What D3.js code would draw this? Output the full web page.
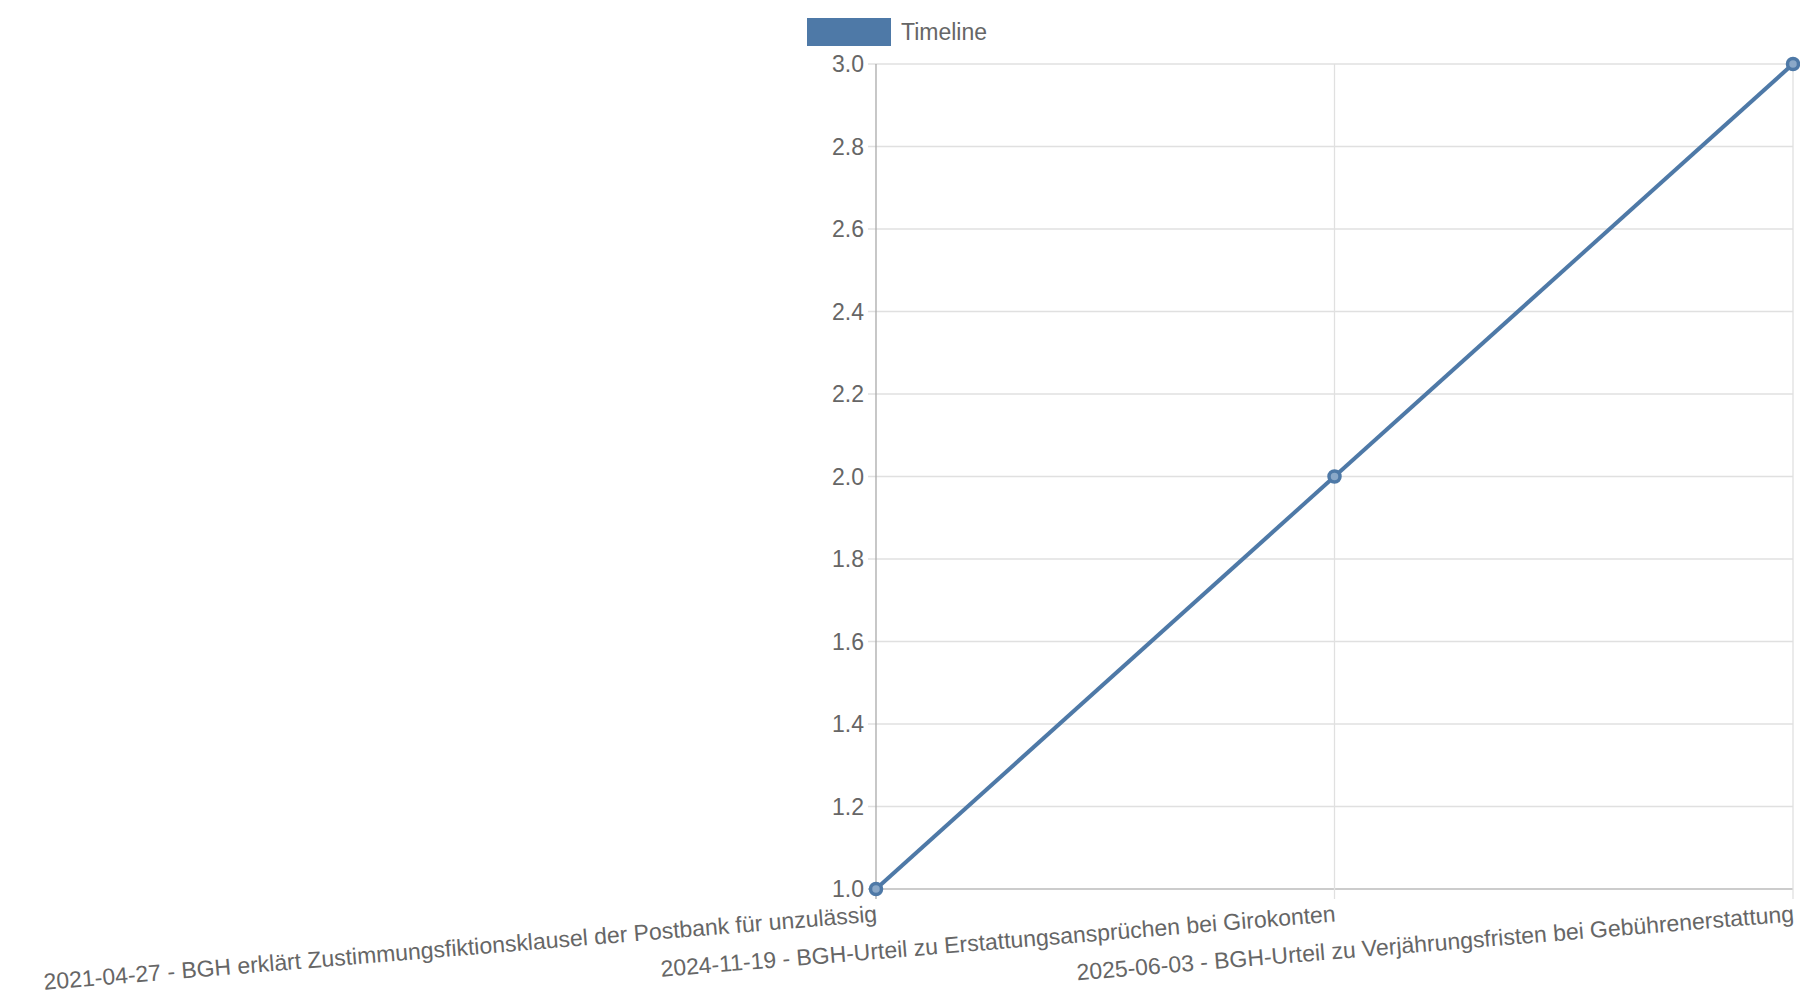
<!DOCTYPE html>
<html><head><meta charset="utf-8">
<script src="https://cdn.jsdelivr.net/npm/d3@7"></script>
<style>body{margin:0;background:#fff}</style></head>
<body><svg id="c" width="1800" height="1000"></svg>
<script>
const categories = ["2021-04-27 - BGH erklärt Zustimmungsfiktionsklausel der Postbank für unzulässig","2024-11-19 - BGH-Urteil zu Erstattungsansprüchen bei Girokonten","2025-06-03 - BGH-Urteil zu Verjährungsfristen bei Gebührenerstattung"];
const values = [1,2,3];
const yTicks = [1.0,1.2,1.4,1.6,1.8,2.0,2.2,2.4,2.6,2.8,3.0];
const seriesName = "Timeline";
const color = "#4e79a7";
const svg = d3.select("#c");
const L=876,R=1793,T=64,B=889;
const x = d3.scalePoint().domain(categories).range([L,R]);
const y = d3.scaleLinear().domain([1,3]).range([B,T]);
const font = "Liberation Sans, Arial, sans-serif";
// grid
svg.append("g").selectAll("line").data(yTicks).join("line")
 .attr("x1",L-8).attr("x2",R).attr("y1",d=>y(d)).attr("y2",d=>y(d))
 .attr("stroke",d=>d===1?"#bbb":"#e0e0e0").attr("stroke-width",1.3);
svg.append("g").selectAll("line").data(categories).join("line")
 .attr("x1",d=>x(d)).attr("x2",d=>x(d)).attr("y1",T).attr("y2",B+10)
 .attr("stroke",(d,i)=>i===0?"#aaa":"#e0e0e0").attr("stroke-width",1.3);
svg.append("g").selectAll("text").data(yTicks).join("text")
 .attr("x",L-12).attr("y",d=>y(d)).attr("dy","0.35em").attr("text-anchor","end")
 .attr("font-family",font).attr("font-size",23).attr("fill","#666").text(d=>d.toFixed(1));
svg.append("g").selectAll("text").data(categories).join("text")
 .attr("transform",d=>`translate(${x(d)},${B+14}) rotate(-4.7)`)
 .attr("text-anchor","end").attr("dy","0.8em")
 .attr("font-family",font).attr("font-size",23).attr("fill","#666").text(d=>d);
// line
svg.append("path").datum(values).attr("fill","none").attr("stroke",color).attr("stroke-width",4)
 .attr("d",d3.line().x((d,i)=>x(categories[i])).y(d=>y(d)));
svg.append("g").selectAll("circle").data(values).join("circle")
 .attr("cx",(d,i)=>x(categories[i])).attr("cy",d=>y(d)).attr("r",5.5)
 .attr("fill","#8aa8c8").attr("stroke",color).attr("stroke-width",3.5);
// legend
svg.append("rect").attr("x",807).attr("y",18).attr("width",84).attr("height",28).attr("fill",color);
svg.append("text").attr("x",901).attr("y",32).attr("dy","0.35em").attr("font-family",font)
 .attr("font-size",23).attr("fill","#666").text(seriesName);
</script></body></html>
